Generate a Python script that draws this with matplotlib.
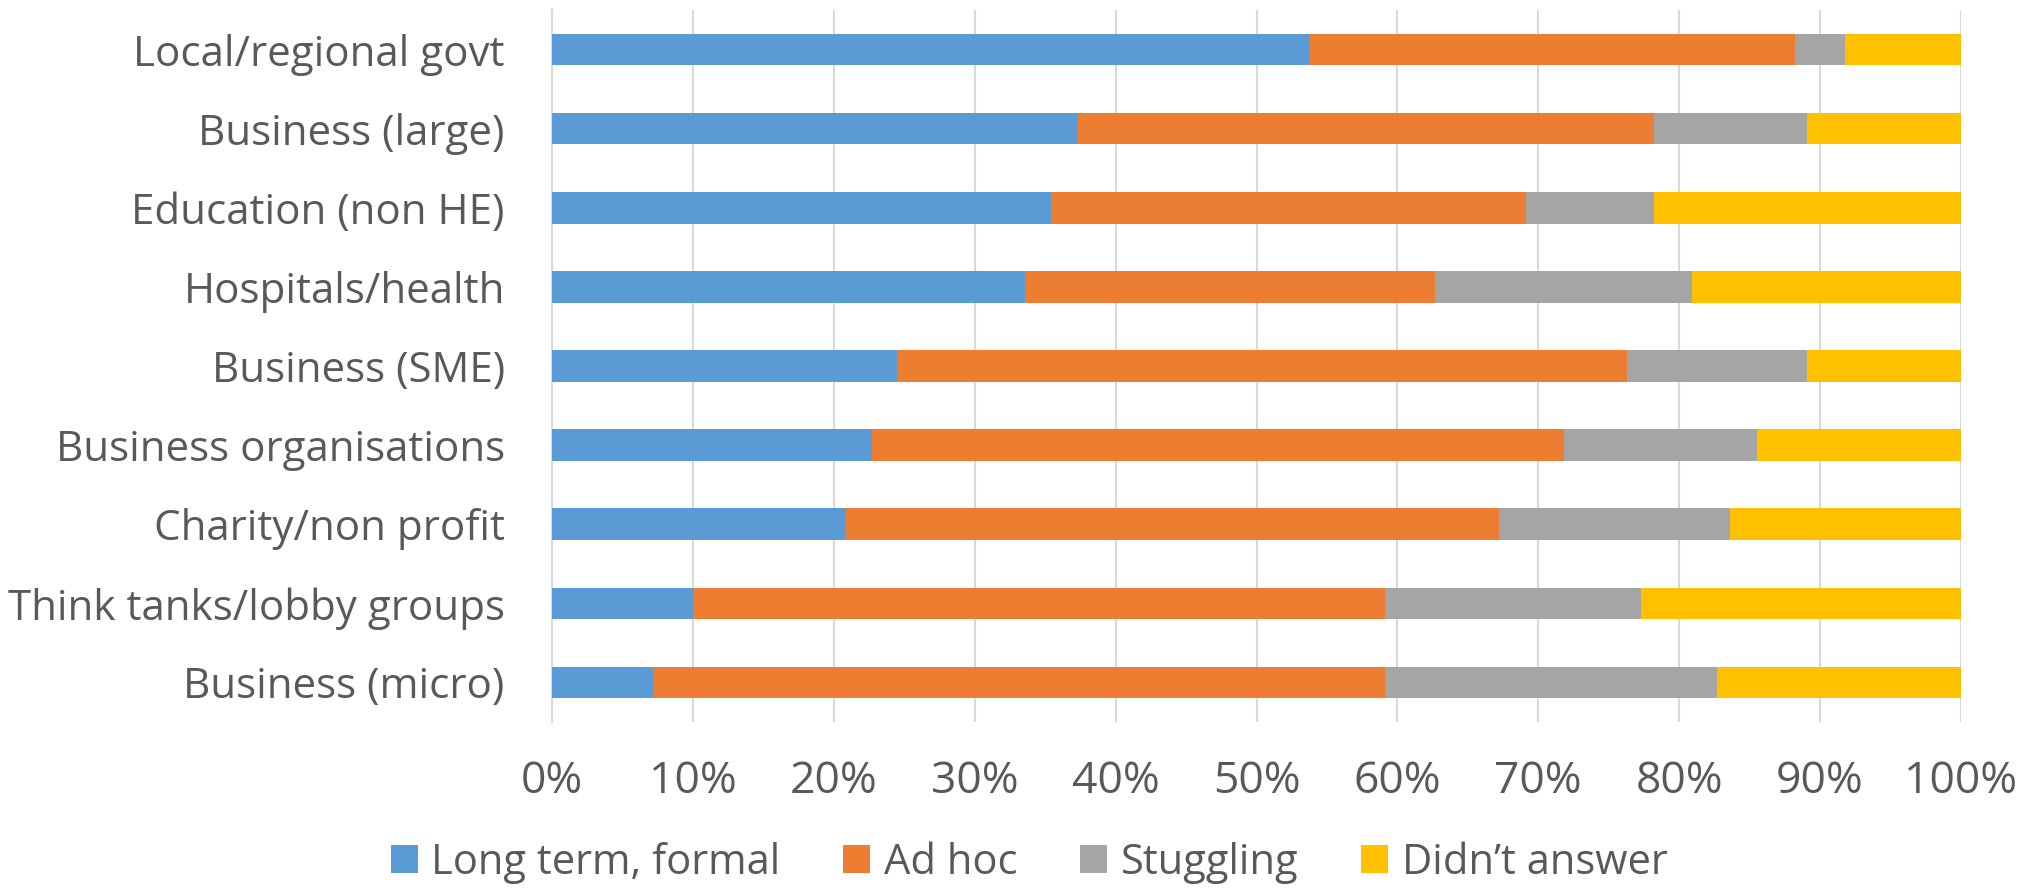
import matplotlib
matplotlib.use("Agg")
import matplotlib.pyplot as plt
import numpy as np

categories = ["Local/regional govt", "Business (large)", "Education (non HE)",
              "Hospitals/health", "Business (SME)", "Business organisations",
              "Charity/non profit", "Think tanks/lobby groups", "Business (micro)"]
long_term = [53.7, 37.3, 35.4, 33.6, 24.5, 22.7, 20.9, 10.0, 7.2]
ad_hoc    = [34.5, 40.9, 33.7, 29.1, 51.8, 49.1, 46.3, 49.1, 51.9]
struggling = [3.6, 10.9, 9.1, 18.2, 12.8, 13.7, 16.4, 18.2, 23.6]
no_answer = [8.2, 10.9, 21.8, 19.1, 10.9, 14.5, 16.4, 22.7, 17.3]
series_names = ["Long term, formal", "Ad hoc", "Stuggling", "Didn\u2019t answer"]
colors = ["#5B9BD5", "#ED7D31", "#A5A5A5", "#FFC000"]
xticks = list(range(0, 101, 10))
xticklabels = [f"{t}%" for t in xticks]

plt.rcParams['font.family'] = ['Open Sans', 'DejaVu Sans']
txt = "#595959"

W, H = 2027, 890
fig = plt.figure(figsize=(W / 100, H / 100), dpi=100)
ax = fig.add_axes([552 / W, 1 - 722 / H, (1961 - 552) / W, (722 - 10) / H])

y = np.arange(len(categories))
left = np.zeros(len(categories))
for vals, name, c in zip([long_term, ad_hoc, struggling, no_answer], series_names, colors):
    v = np.array(vals)
    ax.barh(y, v, left=left, height=0.4, color=c, label=name, zorder=3)
    left += v

ax.set_xlim(0, 100)
ax.set_ylim(len(categories) - 0.5, -0.5)
ax.set_xticks(xticks)
ax.set_xticklabels(xticklabels)
ax.set_yticks(y)
ax.set_yticklabels(categories)
ax.tick_params(axis='x', length=0, pad=27, labelsize=32, labelcolor=txt)
ax.tick_params(axis='y', length=0, pad=34, labelsize=30.3, labelcolor=txt)
ax.grid(axis='x', color="#D9D9D9", linewidth=1.5, zorder=0)
for s in ['top', 'right', 'bottom']:
    ax.spines[s].set_visible(False)
ax.spines['left'].set_color("#D9D9D9")
ax.spines['left'].set_linewidth(1.5)

handles, labels = ax.get_legend_handles_labels()
fig.legend(handles, labels, loc='center', bbox_to_anchor=(1029 / W, 1 - 863 / H),
           ncol=4, frameon=False, fontsize=30, labelcolor=txt,
           handlelength=0.65, handleheight=0.65, handletextpad=0.33,
           columnspacing=1.5)

fig.savefig("out.png", dpi=100)
